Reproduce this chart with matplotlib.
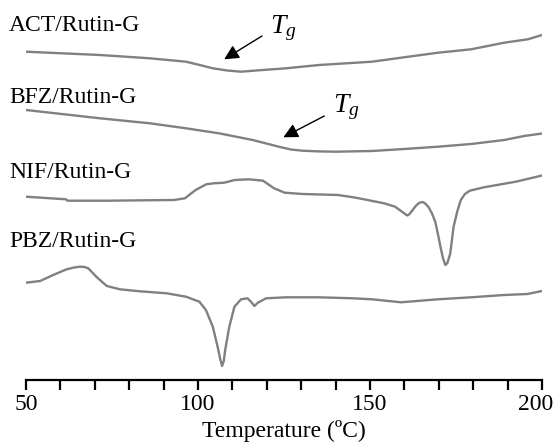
import matplotlib
matplotlib.use("Agg")
import matplotlib.pyplot as plt
from matplotlib.transforms import ScaledTranslation

plt.rcParams["font.family"] = ["Liberation Serif", "DejaVu Serif"]
plt.rcParams["mathtext.fontset"] = "custom"
plt.rcParams["mathtext.rm"] = "Liberation Serif"
plt.rcParams["mathtext.it"] = "Liberation Serif:italic"

# DSC thermograms, stacked (heat flow, arbitrary units)
act_t = [50, 71.5, 86.0, 96.5, 100.5, 104.3, 108.5, 112.5, 118.8, 125.6, 135.2,
         150.6, 159.9, 169.8, 179.4, 189.0, 195.9, 200]
act_hf = [32.83, 32.5, 32.17, 31.83, 31.5, 31.17, 30.95, 30.83, 31.0, 31.17, 31.5,
          31.83, 32.27, 32.73, 33.07, 33.73, 34.07, 34.5]

bfz_t = [50, 71.5, 86.0, 96.5, 106.1, 115.9, 123.5, 127.0, 130.4, 135.0, 140.1,
         150.6, 159.9, 169.8, 179.4, 189.0, 194.8, 200]
bfz_hf = [27.0, 26.17, 25.67, 25.17, 24.67, 24.0, 23.33, 23.05, 22.93, 22.86, 22.83,
          22.9, 23.1, 23.33, 23.6, 24.0, 24.4, 24.65]

nif_t = [50, 61.6, 62.1, 73.5, 93.0, 96.2, 99.3, 102.4, 104.5, 107.6, 110.7,
         114.8, 118.9, 122.1, 125.2, 130.4, 140.7, 145.9, 154.1, 157.3, 159.3,
         160.4, 160.9, 161.5, 162.4, 163.4, 164.4, 165.3, 166.0, 167.0, 168.0,
         169.0, 169.7, 170.5, 171.2, 171.9, 172.5, 173.3, 174.3, 175.4, 176.4,
         177.6, 179.0, 183.1, 192.4, 200]
nif_hf = [18.33, 18.07, 17.93, 17.93, 18.0, 18.17, 19.0, 19.57, 19.67, 19.73,
          20.0, 20.07, 19.93, 19.17, 18.73, 18.6, 18.5, 18.23, 17.67, 17.33,
          16.83, 16.55, 16.45, 16.6, 17.0, 17.45, 17.73, 17.8, 17.67, 17.3, 16.67,
          15.8, 14.67, 13.3, 12.2, 11.5, 11.7, 12.6, 15.33, 16.9, 18.0,
          18.6, 18.93, 19.27, 19.83, 20.45]

pbz_t = [50, 54.1, 57.9, 61.8, 64.0, 65.7, 67.0, 68.1, 70.6, 73.5, 77.3, 83.1,
         90.9, 96.5, 100.4, 102.3, 104.3, 105.7, 106.4, 107.0, 107.5, 107.9,
         109.1, 110.6, 112.5, 114.4, 115.4, 116.4, 117.4, 119.8, 125.6, 135.2,
         145.0, 150.6, 159.0, 169.7, 179.4, 189.0, 195.8, 200]
pbz_hf = [9.73, 9.9, 10.5, 11.07, 11.25, 11.33, 11.3, 11.17, 10.27, 9.4, 9.07,
          8.87, 8.67, 8.33, 7.83, 7.0, 5.33, 3.33, 2.2, 1.4, 1.9, 3.0,
          5.33, 7.33, 8.07, 8.17, 7.83, 7.4, 7.73, 8.17, 8.27, 8.27,
          8.17, 8.07, 7.77, 8.07, 8.27, 8.5, 8.6, 8.9]

names = ["ACT/Rutin-G", "BFZ/Rutin-G", "NIF/Rutin-G", "PBZ/Rutin-G"]
name_y = [34.93, 27.73, 20.23, 13.33]

fig = plt.figure(figsize=(5.57, 4.44), dpi=100)
ax = fig.add_axes([26 / 557, 64 / 444, 516 / 557, 380 / 444])

for t, hf in [(act_t, act_hf), (bfz_t, bfz_hf), (nif_t, nif_hf), (pbz_t, pbz_hf)]:
    ax.plot(t, hf, color="#808080", lw=1.7, solid_joinstyle="round")

for name, y in zip(names, name_y):
    ax.text(45.1, y, name, fontsize=17, va="baseline", ha="left", clip_on=False)

# Tg arrows
for (tx, ty), (hx, hy), (lx, ly) in [((118.6, 34.4), (107.6, 32.07), (121.0, 34.7)),
                                     ((136.7, 26.4), (124.8, 24.27), (139.3, 26.83))]:
    ax.annotate("", xy=(hx, hy), xytext=(tx, ty),
                arrowprops=dict(arrowstyle="-|>", color="black", lw=1.0,
                                mutation_scale=22, shrinkA=0, shrinkB=0))
    ax.text(lx, ly, "$T_g$", fontsize=20, va="baseline", ha="left")

ax.set_xlim(50, 200)
ax.set_ylim(0, 38)
for s in ["top", "right", "left"]:
    ax.spines[s].set_visible(False)
ax.spines["bottom"].set_linewidth(1.6)
ax.set_yticks([])
ax.set_xticks(range(50, 201, 10))
ax.set_xticklabels([str(v) if v % 50 == 0 else "" for v in range(50, 201, 10)])
ax.tick_params(axis="x", direction="out", length=7, width=1.6, labelsize=17, pad=3)
ax.set_xlabel("Temperature (ºC)", fontsize=17, labelpad=4)

# keep the last tick label inside the figure
last = ax.get_xticklabels()[-1]
last.set_transform(last.get_transform() + ScaledTranslation(-6 / 100, 0, fig.dpi_scale_trans))

fig.savefig("out.png", dpi=100)
